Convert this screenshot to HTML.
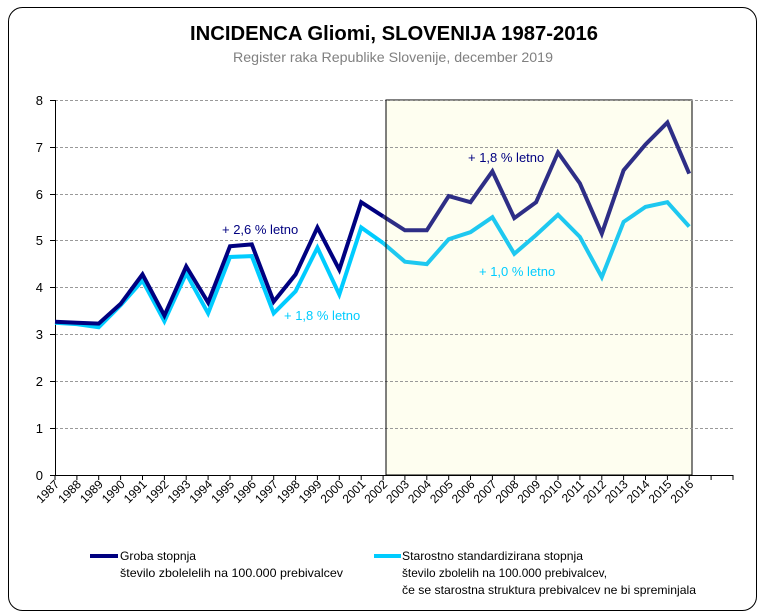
<!DOCTYPE html>
<html><head><meta charset="utf-8"><style>body{margin:0;background:#fff}svg{display:block;font-family:"Liberation Sans",sans-serif}</style></head><body>
<svg width="762" height="616" viewBox="0 0 762 616">
<rect x="8.5" y="7.5" width="748" height="603" rx="14" fill="#fff" stroke="#000" stroke-width="1"/>
<text x="394" y="40" text-anchor="middle" font-size="20" font-weight="bold" fill="#000" textLength="408" lengthAdjust="spacingAndGlyphs">INCIDENCA Gliomi, SLOVENIJA 1987-2016</text>
<text x="393" y="62" text-anchor="middle" font-size="14" fill="#808080" textLength="320" lengthAdjust="spacingAndGlyphs">Register raka Republike Slovenije, december 2019</text>
<rect x="386" y="100" width="306" height="375" fill="#fefef0" stroke="#000" stroke-width="1"/>
<g stroke="#999" stroke-dasharray="3,2" stroke-width="1">
<line x1="55" y1="100.5" x2="735" y2="100.5"/><line x1="55" y1="147.5" x2="735" y2="147.5"/><line x1="55" y1="194.5" x2="735" y2="194.5"/><line x1="55" y1="240.5" x2="735" y2="240.5"/><line x1="55" y1="287.5" x2="735" y2="287.5"/><line x1="55" y1="334.5" x2="735" y2="334.5"/><line x1="55" y1="381.5" x2="735" y2="381.5"/><line x1="55" y1="428.5" x2="735" y2="428.5"/>
</g>
<g stroke="#000" stroke-width="1">
<line x1="55.5" y1="100" x2="55.5" y2="475"/><line x1="55" y1="475.5" x2="733" y2="475.5"/>
<path d="M50 100.5h5M50 147.5h5M50 194.5h5M50 240.5h5M50 287.5h5M50 334.5h5M50 381.5h5M50 428.5h5M50 475.5h5"/>
<path d="M55 475v5M76.9 475v5M98.7 475v5M120.6 475v5M142.5 475v5M164.4 475v5M186.2 475v5M208.1 475v5M230 475v5M251.8 475v5M273.7 475v5M295.6 475v5M317.4 475v5M339.3 475v5M361.2 475v5M383.1 475v5M404.9 475v5M426.8 475v5M448.7 475v5M470.5 475v5M492.4 475v5M514.3 475v5M536.1 475v5M558 475v5M579.9 475v5M601.8 475v5M623.6 475v5M645.5 475v5M667.4 475v5M689.2 475v5M711.1 475v5M733 475v5"/>
</g>
<g font-size="13" text-anchor="end" fill="#000">
<text x="43" y="105">8</text><text x="43" y="152">7</text><text x="43" y="199">6</text><text x="43" y="245">5</text><text x="43" y="292">4</text><text x="43" y="339">3</text><text x="43" y="386">2</text><text x="43" y="433">1</text><text x="43" y="480">0</text>
</g>
<g font-size="12" text-anchor="end" fill="#000">
<text transform="translate(60,485) rotate(-45)">1987</text><text transform="translate(81.9,485) rotate(-45)">1988</text><text transform="translate(103.7,485) rotate(-45)">1989</text><text transform="translate(125.6,485) rotate(-45)">1990</text><text transform="translate(147.5,485) rotate(-45)">1991</text><text transform="translate(169.4,485) rotate(-45)">1992</text><text transform="translate(191.2,485) rotate(-45)">1993</text><text transform="translate(213.1,485) rotate(-45)">1994</text><text transform="translate(235,485) rotate(-45)">1995</text><text transform="translate(256.8,485) rotate(-45)">1996</text><text transform="translate(278.7,485) rotate(-45)">1997</text><text transform="translate(300.6,485) rotate(-45)">1998</text><text transform="translate(322.4,485) rotate(-45)">1999</text><text transform="translate(344.3,485) rotate(-45)">2000</text><text transform="translate(366.2,485) rotate(-45)">2001</text><text transform="translate(388.1,485) rotate(-45)">2002</text><text transform="translate(409.9,485) rotate(-45)">2003</text><text transform="translate(431.8,485) rotate(-45)">2004</text><text transform="translate(453.7,485) rotate(-45)">2005</text><text transform="translate(475.5,485) rotate(-45)">2006</text><text transform="translate(497.4,485) rotate(-45)">2007</text><text transform="translate(519.3,485) rotate(-45)">2008</text><text transform="translate(541.1,485) rotate(-45)">2009</text><text transform="translate(563,485) rotate(-45)">2010</text><text transform="translate(584.9,485) rotate(-45)">2011</text><text transform="translate(606.8,485) rotate(-45)">2012</text><text transform="translate(628.6,485) rotate(-45)">2013</text><text transform="translate(650.5,485) rotate(-45)">2014</text><text transform="translate(672.4,485) rotate(-45)">2015</text><text transform="translate(694.2,485) rotate(-45)">2016</text>
</g>
<g fill="none" stroke-width="4" stroke-linejoin="miter">
<polyline stroke="#1ec8f0" points="383.1,243 404.9,261.7 426.8,264.1 448.7,239.2 470.5,232.2 492.4,217.2 514.3,253.8 536.1,235 558,214.8 579.9,236.9 601.8,277.2 623.6,221.9 645.5,206.9 667.4,202.2 689.2,226.6"/>
<polyline stroke="#00ccff" points="55,322.7 76.9,324.1 98.7,327.3 120.6,305.3 142.5,280.5 164.4,321.3 186.2,273.4 208.1,313.3 230,257 251.8,256.1 273.7,313.3 295.6,291.3 317.4,247.7 339.3,294.5 361.2,227.5 383.1,243"/>
<polyline stroke="#2e2e86" points="383.1,216.3 404.9,230.3 426.8,230.3 448.7,196.1 470.5,202.2 492.4,171.3 514.3,218.1 536.1,202.2 558,152.5 579.9,183.4 601.8,233.6 623.6,170.3 645.5,144.5 667.4,122.5 689.2,173.6"/>
<polyline stroke="#000080" points="55,321.7 76.9,322.7 98.7,323.6 120.6,303.9 142.5,274.4 164.4,315.6 186.2,266.4 208.1,302.5 230,246.3 251.8,244.4 273.7,301.6 295.6,274.4 317.4,227.5 339.3,269.7 361.2,202.2 383.1,216.3"/>
</g>
<line x1="386" y1="100" x2="386" y2="475" stroke="#000" stroke-width="1"/>
<g font-size="13">
<text x="222" y="234" fill="#000080">+ 2,6 % letno</text>
<text x="284" y="320" fill="#00ccff">+ 1,8 % letno</text>
<text x="468" y="162" fill="#000080">+ 1,8 % letno</text>
<text x="479" y="276" fill="#00ccff">+ 1,0 % letno</text>
</g>
<g font-size="12" fill="#000">
<line x1="90" y1="556" x2="118" y2="556" stroke="#000080" stroke-width="4"/>
<text x="120" y="560" textLength="76" lengthAdjust="spacingAndGlyphs">Groba stopnja</text>
<text x="120" y="577" textLength="223" lengthAdjust="spacingAndGlyphs">število zbolelelih na 100.000 prebivalcev</text>
<line x1="374" y1="556" x2="401" y2="556" stroke="#00ccff" stroke-width="4"/>
<text x="402" y="560" textLength="181" lengthAdjust="spacingAndGlyphs">Starostno standardizirana stopnja</text>
<text x="402" y="577" textLength="205" lengthAdjust="spacingAndGlyphs">število zbolelih na 100.000 prebivalcev,</text>
<text x="402" y="594" textLength="294" lengthAdjust="spacingAndGlyphs">če se starostna struktura prebivalcev ne bi spreminjala</text>
</g>
</svg>
</body></html>
